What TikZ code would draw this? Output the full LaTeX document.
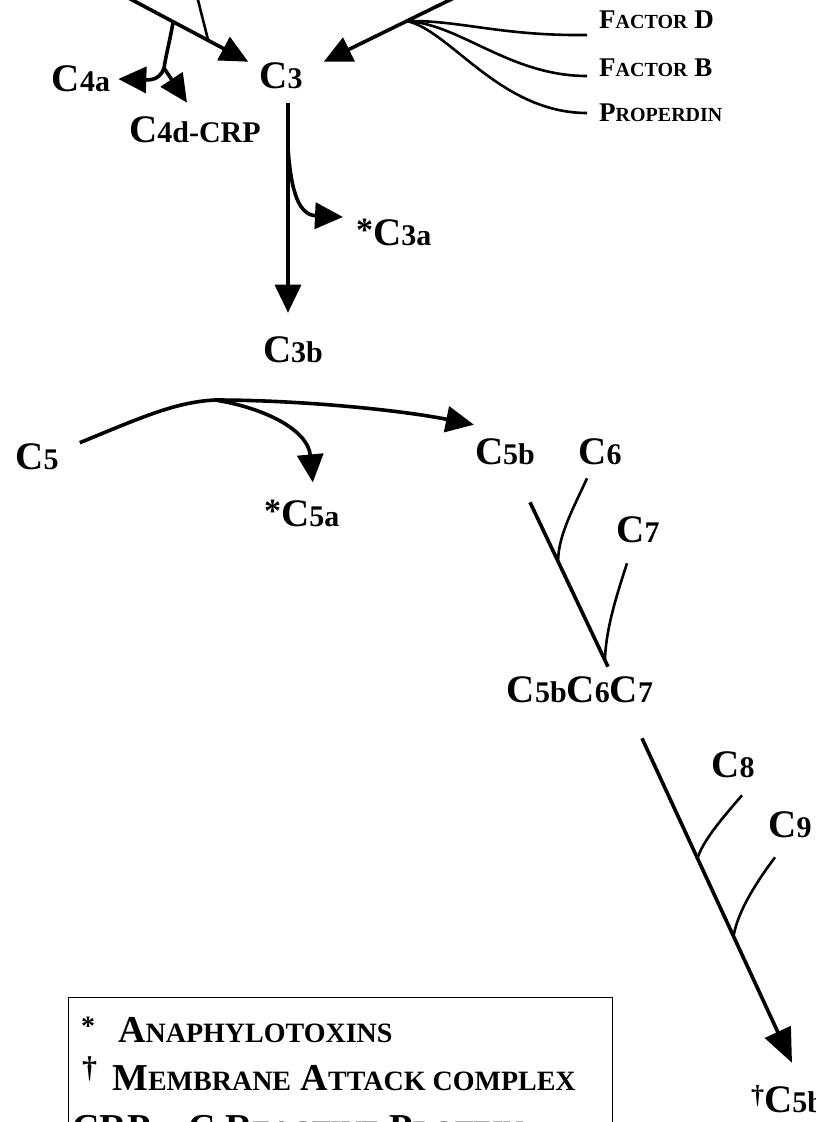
\documentclass[tikz,border=0pt]{standalone}
\usepackage{fontspec}
\setmainfont{Liberation Serif}
\usetikzlibrary{arrows.meta,calc}
\def\smsize{30}
\newcommand{\sm}[1]{{\fontsize{\smsize}{\smsize}\selectfont #1}}
\newcommand{\anaph}{{\fontsize{34}{34}\selectfont\raisebox{4pt}{*}}}

\begin{document}
\begin{tikzpicture}[x=1pt,y=1pt,
    lbl/.style={font=\fontsize{39}{39}\selectfont\bfseries\def\smsize{30}, inner sep=1pt},
    fct/.style={font=\fontsize{27}{27}\selectfont\bfseries\def\smsize{20}, inner sep=1pt, anchor=west},
    key/.style={font=\fontsize{38}{38}\selectfont\bfseries\def\smsize{28}, inner sep=0pt, anchor=base west},
    main/.style={line width=3.6pt},
    branch/.style={line width=2.6pt},
    arr/.style={-{Triangle[length=28pt,width=26pt]}}]
    \useasboundingbox (0,0) rectangle (815,-1122);

    \node[lbl] (c4a) at (81,-79) {C\sm{4a}};
    \node[lbl] (c3) at (281,-76) {C\sm{3}};
    \node[lbl] (c4d) at (195,-130) {C\sm{4d-CRP}};
    \node[fct] (fd) at (598,-20) {F\sm{ACTOR} D};
    \node[fct] (fb) at (598,-68) {F\sm{ACTOR} B};
    \node[fct] (pp) at (598,-113) {P\sm{ROPERDIN}};
    \node[lbl, anchor=west] (c3a) at (355,-232) {\anaph C\sm{3a}};
    \node[lbl] (c3b) at (293,-350) {C\sm{3b}};
    \node[lbl] (c5) at (37,-457) {C\sm{5}};
    \node[lbl, anchor=west] (c5a) at (263,-513) {\anaph C\sm{5a}};
    \node[lbl] (c5b) at (505,-452) {C\sm{5b}};
    \node[lbl] (c6) at (600,-452) {C\sm{6}};
    \node[lbl] (c7) at (638,-530) {C\sm{7}};
    \node[lbl] (c567) at (580,-690) {C\sm{5b}C\sm{6}C\sm{7}};
    \node[lbl] (c8) at (733,-765) {C\sm{8}};
    \node[lbl] (c9) at (790,-825) {C\sm{9}};
    \node[lbl, anchor=base west] (mac) at (750,-1112) {{\fontsize{26}{26}\selectfont\raisebox{9pt}{\textdagger}}C\sm{5b}};

    % key
    \node[draw, line width=1.3pt, anchor=north west, minimum width=544pt, minimum height=170pt, inner sep=0pt] (legend) at (68,-997) {};
    \node[key] (k1) at (81,-1042) {\raisebox{7pt}{\sm{*}}};
    \node[key] (k1t) at (118,-1042) {A\sm{NAPHYLOTOXINS}};
    \node[key] (k2) at (82,-1090) {{\fontsize{30}{30}\selectfont\raisebox{13pt}{\textdagger}}};
    \node[key] (k2t) at (112,-1090) {M\sm{EMBRANE} A\sm{TTACK COMPLEX}};
    \node[key] (k3) at (72,-1140) {CRP -- C R\sm{EACTIVE} P\sm{ROTEIN}};

    % classical side
    \coordinate (cl) at (121,6);
    \coordinate (cl2) at (196,8);
    \draw[main, arr] (cl) -- coordinate[pos=0.41] (b1) coordinate[pos=0.685] (j1) ([xshift=-10pt]c3.north west);
    \draw[branch] (cl2) -- (j1);
    \draw[main] (b1) .. controls (170,-40) and (166,-55) .. (164,-68) coordinate (c4s);
    \draw[main, arr] (c4s) .. controls (160,-80) and (150,-80) .. ([xshift=7pt]c4a.east);
    \draw[main, arr] (c4s) -- ([shift={(-8pt,13pt)}]c4d.north);

    % alternative side
    \coordinate (al) at (462,6);
    \draw[main, arr] (al) -- coordinate[pos=0.40] (bp) ([xshift=20pt]c3.north east);
    \draw[branch] (bp) .. controls (460,-20) and (500,-36) .. ([shift={(-11pt,-15pt)}]fd.west);
    \draw[branch] (bp) .. controls (460,-24) and (510,-76) .. ([shift={(-11pt,-8pt)}]fb.west);
    \draw[branch] (bp) .. controls (450,-30) and (500,-113) .. ([xshift=-11pt]pp.west);

    % C3 split
    \draw[main, arr] ([shift={(7pt,-13pt)}]c3.south) -- coordinate[pos=0.21] (s3a) ([shift={(-5pt,23pt)}]c3b.north);
    \draw[main, arr] (s3a) .. controls (291,-195) and (300,-215) .. ([shift={(-12pt,15pt)}]c3a.west);

    % C5 split
    \draw[main, arr] ([xshift=20pt]c5.north east) .. controls (140,-418) and (175,-402) .. (215,-400) coordinate (pk)
        .. controls (300,-400) and (400,-410) .. ([yshift=13pt]c5b.north west);
    \draw[main, arr] (pk) .. controls (265,-408) and (308,-430) .. ([shift={(11pt,16pt)}]c5a.north);

    % C5b67
    \draw[main] ([shift={(25pt,-36pt)}]c5b.south) -- coordinate[pos=0.36] (j6) coordinate[pos=0.96] (j7) ([shift={(28pt,9pt)}]c567.north);
    \draw[branch] ([shift={(-13pt,-12pt)}]c6.south) .. controls (575,-505) and (558,-535) .. (j6);
    \draw[branch] ([shift={(-11pt,-19pt)}]c7.south) .. controls (615,-600) and (606,-630) .. (j7);

    % MAC
    \draw[main, -{Triangle[length=34pt,width=28pt]}] ([shift={(62pt,-34pt)}]c567.south) -- coordinate[pos=0.37] (j8) coordinate[pos=0.61] (j9) ([shift={(42pt,21pt)}]mac.north west);
    \draw[branch] ([shift={(9pt,-16pt)}]c8.south) .. controls (725,-815) and (703,-840) .. (j8);
    \draw[branch] ([shift={(-15pt,-18pt)}]c9.south) .. controls (758,-880) and (738,-910) .. (j9);
\end{tikzpicture}
\end{document}
